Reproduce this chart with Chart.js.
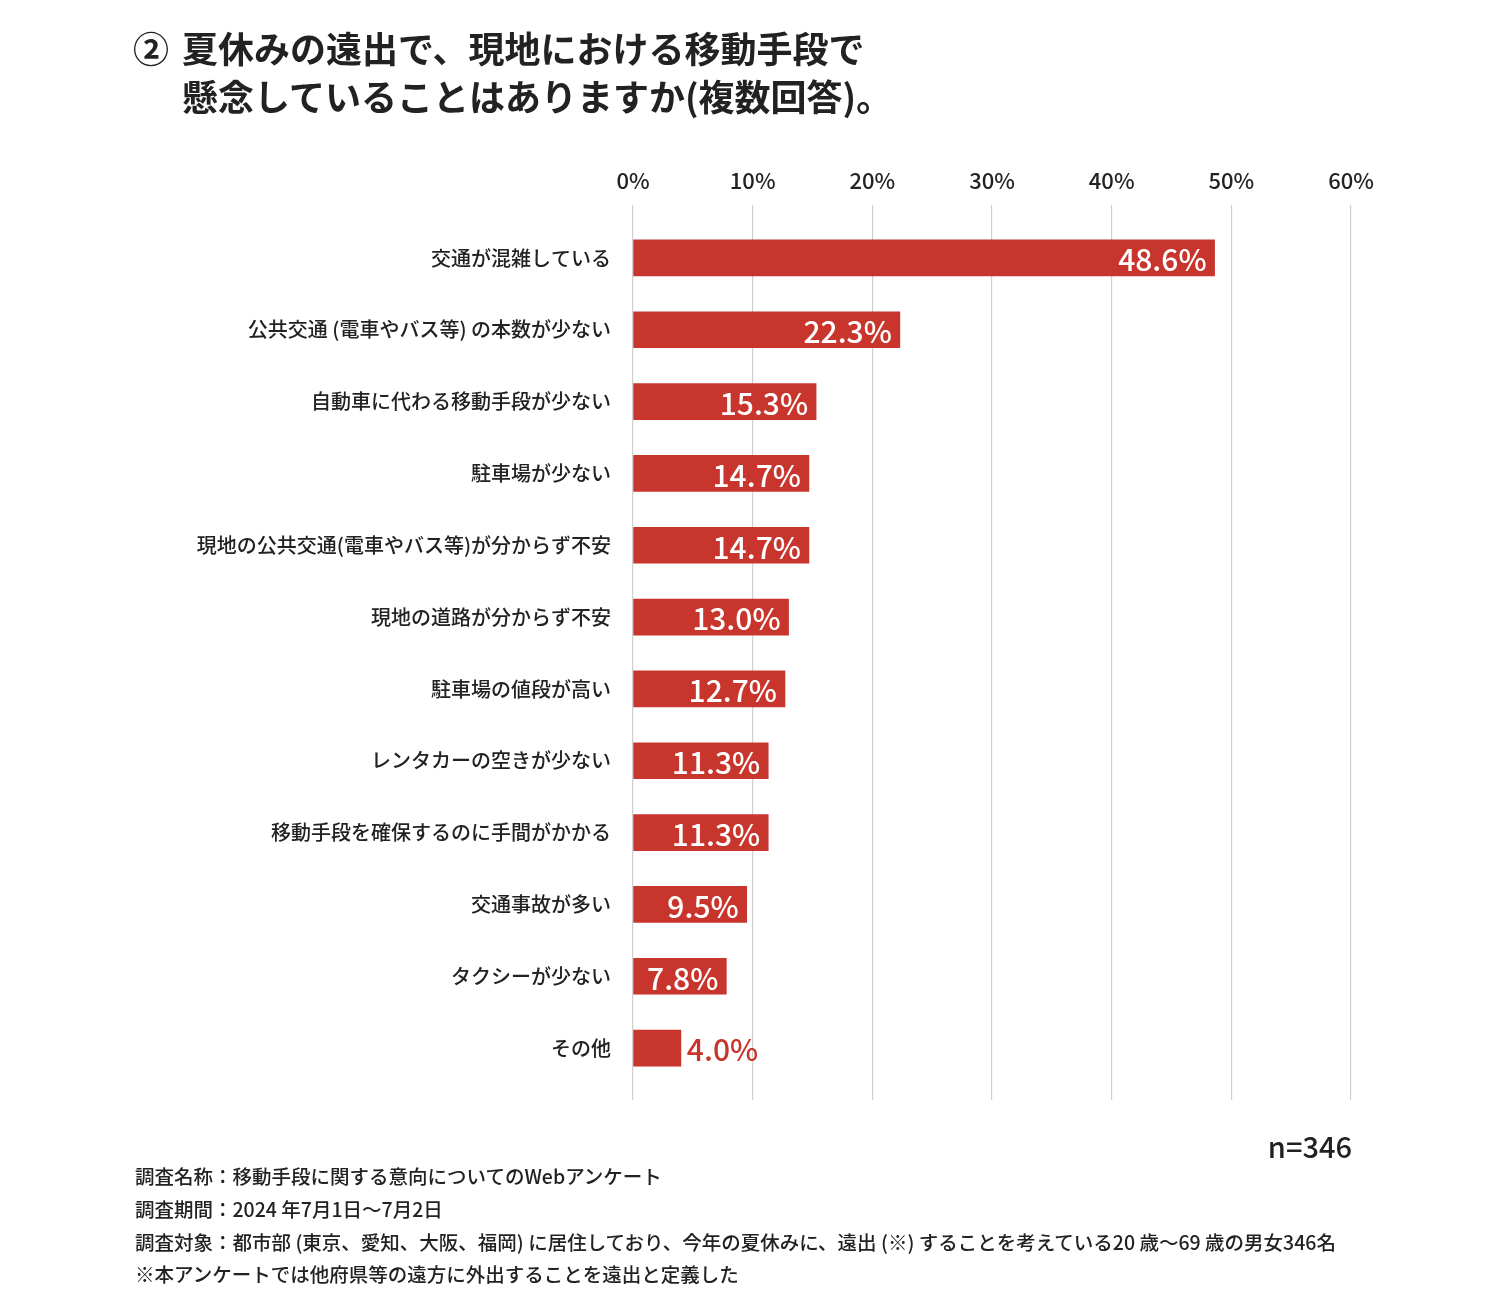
<!DOCTYPE html>
<html><head><meta charset="utf-8">
<script src="https://cdn.jsdelivr.net/npm/chart.js@4.4.1/dist/chart.umd.min.js"></script>
<style>
html,body{margin:0;padding:0;background:#fff;}
#wrap{position:relative;width:1500px;height:1316px;overflow:hidden;}
canvas{position:absolute;left:0;top:0;}
.t{position:absolute;font-family:"Noto Sans CJK JP","Noto Sans",sans-serif;color:#222;white-space:nowrap;}
.title{font-size:36px;font-weight:700;line-height:48px;}
.foot{font-size:19.5px;font-weight:500;line-height:32px;left:135px;}
</style></head><body>
<div id="wrap">
<canvas id="c" width="1500" height="1316"></canvas>
<div class="t title" style="left:133px;top:23px;">②</div>
<div class="t title" style="left:182px;top:23px;">夏休みの遠出で、現地における移動手段で</div>
<div class="t title" style="left:182px;top:71px;">懸念していることはありますか(複数回答)。</div>
<div class="t" style="right:148px;top:1125px;font-size:29px;font-weight:500;line-height:40px;">n=346</div>
<div class="t foot" style="top:1160px;">調査名称：移動手段に関する意向についてのWebアンケート</div>
<div class="t foot" style="top:1193px;">調査期間：2024 年7月1日〜7月2日</div>
<div class="t foot" style="top:1226px;">調査対象：都市部 (東京、愛知、大阪、福岡) に居住しており、今年の夏休みに、遠出 (※) することを考えている20 歳〜69 歳の男女346名</div>
<div class="t foot" style="top:1258px;">※本アンケートでは他府県等の遠方に外出することを遠出と定義した</div>
</div>
<script>
const categories = [
  "交通が混雑している",
  "公共交通 (電車やバス等) の本数が少ない",
  "自動車に代わる移動手段が少ない",
  "駐車場が少ない",
  "現地の公共交通(電車やバス等)が分からず不安",
  "現地の道路が分からず不安",
  "駐車場の値段が高い",
  "レンタカーの空きが少ない",
  "移動手段を確保するのに手間がかかる",
  "交通事故が多い",
  "タクシーが少ない",
  "その他"
];
const values = [48.6, 22.3, 15.3, 14.7, 14.7, 13.0, 12.7, 11.3, 11.3, 9.5, 7.8, 4.0];
const tickValues = [0, 10, 20, 30, 40, 50, 60];

const FONT = '"Noto Sans CJK JP", "Noto Sans", sans-serif';
const barColor = '#c8352d';
const gridColor = '#cfcfcf';

const valueLabels = {
  id: 'valueLabels',
  afterDatasetsDraw(chart) {
    const ctx = chart.ctx;
    const meta = chart.getDatasetMeta(0);
    ctx.save();
    ctx.font = '500 30px ' + FONT;
    ctx.textBaseline = 'middle';
    meta.data.forEach((bar, i) => {
      const txt = values[i].toFixed(1) + '%';
      const w = ctx.measureText(txt).width;
      const barW = bar.x - bar.base;
      if (w + 14 < barW) {
        ctx.fillStyle = '#ffffff';
        ctx.textAlign = 'right';
        ctx.fillText(txt, bar.x - 8, bar.y + 2);
      } else {
        ctx.fillStyle = barColor;
        ctx.textAlign = 'left';
        ctx.fillText(txt, bar.x + 6, bar.y + 2);
      }
    });
    ctx.restore();
  }
};

new Chart(document.getElementById('c'), {
  type: 'bar',
  data: {
    labels: categories,
    datasets: [{
      data: values,
      backgroundColor: barColor,
      barThickness: 36,
      borderWidth: 0
    }]
  },
  options: {
    indexAxis: 'y',
    responsive: false,
    devicePixelRatio: 1,
    animation: false,
    layout: { padding: { left: 0, right: 149, top: 0, bottom: 0 } },
    plugins: { legend: { display: false }, tooltip: { enabled: false } },
    scales: {
      x: {
        type: 'linear', position: 'top',
        min: tickValues[0], max: tickValues[tickValues.length - 1],
        afterBuildTicks(s) { s.ticks = tickValues.map(v => ({ value: v })); },
        ticks: {
          callback: v => v + '%',
          font: { family: FONT, size: 22, weight: '500' },
          color: '#222', padding: 11
        },
        grid: { color: gridColor, lineWidth: 1.2, tickLength: 17, drawTicks: true },
        border: { display: false },
        afterFit(s) { s.height = 222; }
      },
      x2: {
        type: 'linear', position: 'bottom',
        min: tickValues[0], max: tickValues[tickValues.length - 1],
        afterBuildTicks(s) { s.ticks = tickValues.map(v => ({ value: v })); },
        ticks: { display: false },
        grid: { color: gridColor, lineWidth: 1.2, tickLength: 16, drawOnChartArea: false, drawTicks: true },
        border: { display: false },
        afterFit(s) { s.height = 232; }
      },
      y: {
        ticks: {
          font: { family: FONT, size: 20, weight: '500' },
          color: '#222', padding: 22
        },
        grid: { display: false, drawTicks: false },
        border: { display: false },
        afterFit(s) { s.width = 633; }
      }
    }
  },
  plugins: [valueLabels]
});
</script>
</body></html>
